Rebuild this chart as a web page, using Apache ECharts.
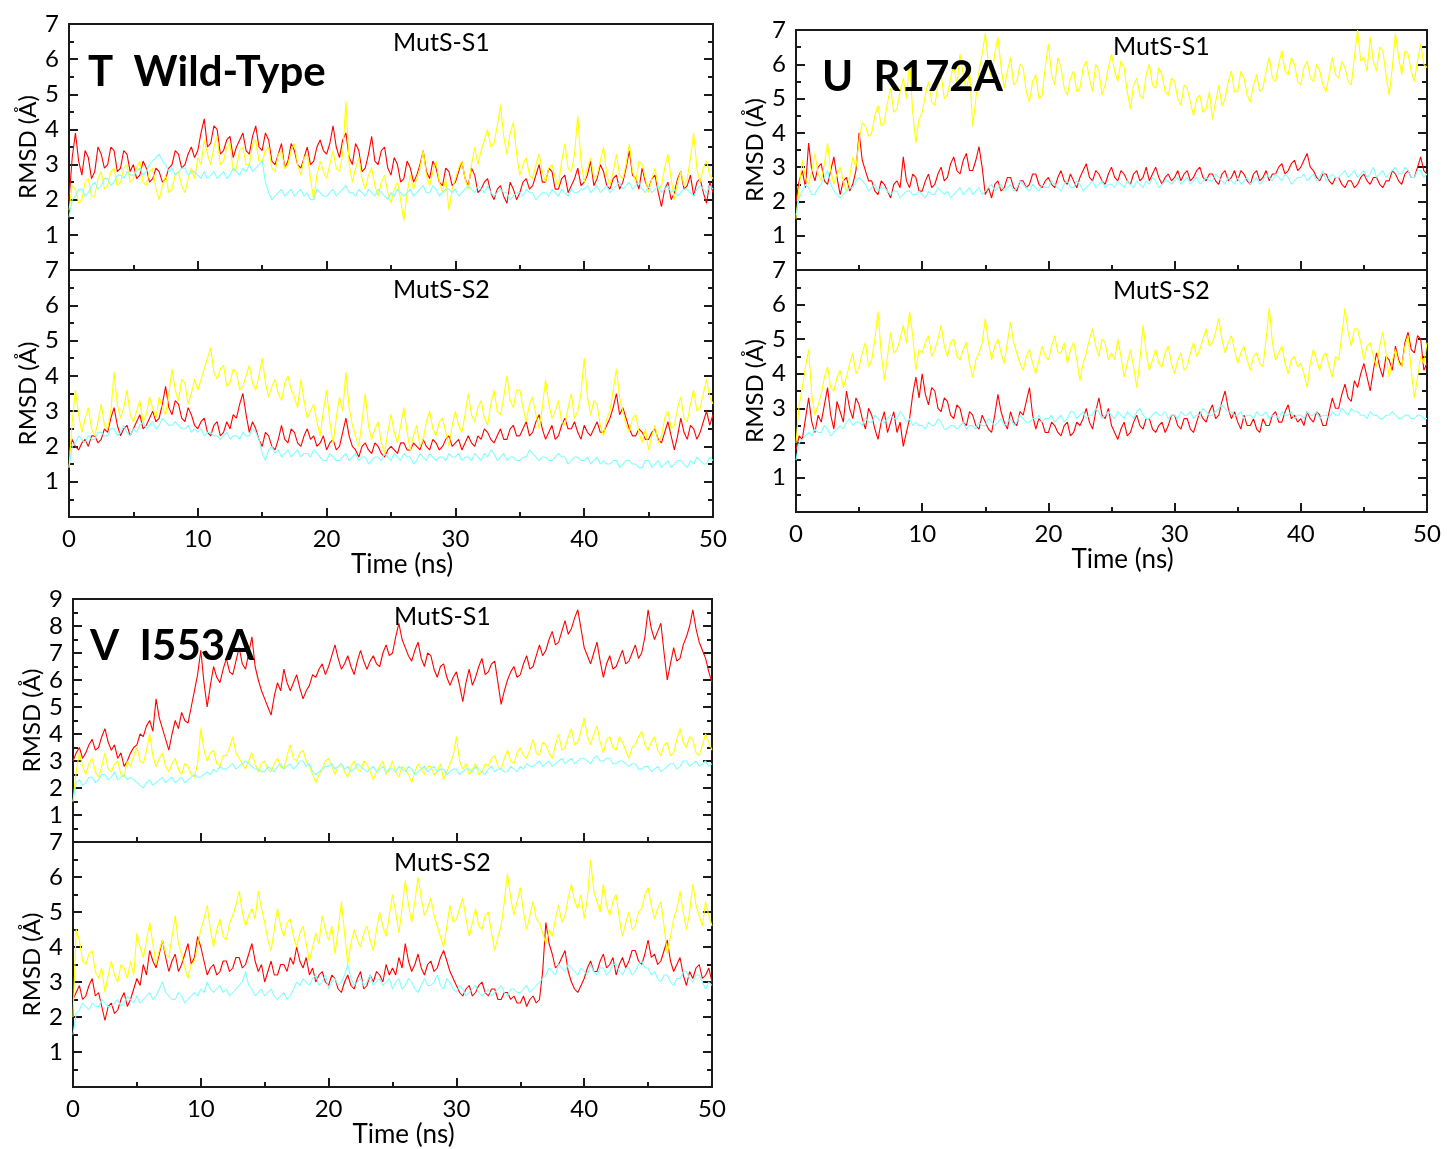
<!DOCTYPE html>
<html><head><meta charset="utf-8">
<script src="https://cdn.jsdelivr.net/npm/echarts@6/dist/echarts.min.js"></script>
<style>html,body{margin:0;padding:0;background:#fff}#c{width:1447px;height:1149px}</style>
</head><body><div id="c"></div>
<script>
// ---- data (RMSD in Å, one value every 0.25 ns from 0 to 50 ns; one row = 5 ns) ----
const timeStepNs = 0.25;
const xTickLabels = [0, 10, 20, 30, 40, 50];
const panelLabels = ['T  Wild-Type', 'U  R172A', 'V  I553A'];
const subplotTitles = ['MutS-S1', 'MutS-S2'];

// Wild-Type, MutS-S1
const wtS1Red = [
 2.0,3.2,3.9,3.1,2.7,3.4,3.2,2.6,2.8,3.5,3.3,2.9,3.0,3.5,3.4,2.8,2.9,3.4,3.3,2.8,
 3.0,2.6,2.7,3.1,2.9,2.5,2.6,2.9,2.8,2.5,2.6,2.9,3.0,3.4,3.3,2.9,3.0,3.3,3.5,3.2,
 3.4,3.9,4.3,3.5,3.6,4.1,4.0,3.3,3.4,3.7,3.8,3.2,3.5,3.7,3.9,3.4,3.3,3.8,4.1,3.5,
 3.4,3.9,3.7,3.1,3.0,3.3,3.6,2.9,3.1,3.6,3.4,3.0,2.9,3.2,3.5,3.0,3.1,3.5,3.7,3.4,
 3.3,3.6,4.1,3.5,3.2,3.7,3.9,3.2,3.0,3.6,3.4,2.8,2.9,3.3,3.8,3.1,3.0,3.4,3.5,2.9,
 2.7,3.2,3.0,2.5,2.6,3.1,2.9,2.5,2.7,3.0,3.4,2.8,2.6,3.1,2.9,2.5,2.4,2.9,2.8,2.4,
 2.5,2.8,3.1,2.6,2.4,2.9,2.7,2.2,2.3,2.5,2.6,2.2,2.0,2.3,2.4,2.1,1.9,2.5,2.3,2.0,
 2.2,2.5,2.6,2.3,2.4,2.7,3.0,2.5,2.5,2.9,2.8,2.3,2.3,2.6,2.7,2.2,2.4,2.6,2.9,2.4,
 2.5,2.7,3.1,2.4,2.6,3.0,2.8,2.4,2.3,2.6,2.7,2.3,2.5,2.9,3.4,2.7,2.6,2.3,2.9,2.5,
 2.3,2.6,2.7,2.2,1.8,2.3,2.5,2.0,2.2,2.6,2.8,2.3,2.4,2.7,2.1,2.5,2.6,2.2,1.9,2.5,
 2.2];
const wtS1Yellow = [
 1.7,2.4,2.3,1.9,2.0,2.5,2.6,2.1,2.1,2.6,2.8,2.3,2.4,2.8,2.9,2.4,2.5,2.9,3.0,2.5,
 2.6,2.9,3.1,2.5,2.4,2.8,2.9,2.3,2.0,2.4,2.7,2.2,2.3,2.7,2.8,2.4,2.2,2.6,2.9,2.6,
 3.2,3.0,3.7,3.3,3.0,3.5,3.8,3.0,3.1,3.5,3.6,2.8,2.9,3.4,3.5,3.0,3.0,3.6,3.7,3.1,
 3.1,3.4,3.5,2.9,2.8,3.3,3.4,2.9,3.0,3.4,3.6,3.0,2.7,3.2,3.3,2.6,2.0,2.7,3.1,2.8,
 2.6,3.0,3.4,2.9,2.8,3.3,4.8,3.0,2.5,2.9,3.2,2.6,2.3,2.7,2.9,2.4,2.1,2.5,2.7,2.2,
 1.9,2.3,2.5,2.0,1.4,2.2,2.7,2.3,2.6,2.9,3.4,2.7,2.4,2.8,3.1,2.5,2.2,2.6,1.7,2.3,
 2.6,2.9,3.1,2.6,2.3,3.0,3.5,3.0,3.4,3.7,4.0,3.5,3.6,4.1,4.7,3.8,3.3,3.9,4.2,3.3,
 2.7,3.0,3.2,2.7,2.6,3.0,3.3,2.8,2.5,2.9,3.0,2.6,2.4,3.1,3.6,2.9,2.8,3.3,4.4,3.1,
 2.5,2.9,3.2,2.6,2.7,3.1,3.5,2.7,2.4,2.8,3.3,2.7,2.6,3.0,3.6,2.8,2.5,3.1,3.0,2.6,
 2.2,2.6,2.9,2.3,2.4,2.9,3.3,2.6,2.0,2.5,2.8,2.4,2.6,3.2,3.9,2.9,2.5,2.9,3.1,2.7,
 2.6];
const wtS1Cyan = [
 1.5,2.0,2.1,2.3,2.3,2.1,2.2,2.4,2.5,2.3,2.4,2.6,2.6,2.4,2.5,2.7,2.7,2.6,2.8,2.7,
 2.7,2.8,2.9,2.7,2.8,3.0,3.1,3.2,3.3,3.1,3.0,2.8,2.9,2.7,2.8,2.9,2.9,2.7,2.8,2.8,
 2.7,2.6,2.8,2.6,2.7,2.8,2.6,2.7,2.8,2.6,2.7,2.9,2.8,2.7,2.9,2.8,3.0,2.8,2.9,3.0,
 3.1,2.5,2.2,2.0,2.1,2.2,2.3,2.1,2.2,2.3,2.1,2.2,2.3,2.1,2.2,2.0,2.0,2.3,2.2,2.1,
 2.1,2.2,2.3,2.1,2.2,2.3,2.4,2.2,2.2,2.1,2.3,2.2,2.1,2.3,2.2,2.1,2.3,2.2,2.1,2.0,
 2.2,2.1,2.3,2.2,2.1,2.2,2.3,2.1,2.2,2.3,2.4,2.2,2.2,2.4,2.3,2.1,2.2,2.3,2.3,2.2,
 2.3,2.1,2.2,2.3,2.4,2.3,2.2,2.4,2.3,2.2,2.4,2.2,2.1,2.2,2.3,2.2,2.2,2.0,2.1,2.2,
 2.2,2.1,2.3,2.2,2.2,2.0,2.1,2.2,2.2,2.1,2.3,2.2,2.1,2.3,2.2,2.1,2.3,2.2,2.2,2.3,
 2.3,2.4,2.2,2.3,2.4,2.2,2.3,2.4,2.2,2.3,2.4,2.5,2.3,2.4,2.5,2.3,2.4,2.5,2.3,2.2,
 2.4,2.2,2.3,2.4,2.2,2.3,2.4,2.2,2.3,2.1,2.2,2.3,2.3,2.2,2.1,2.3,2.4,2.3,2.2,2.4,
 2.3];

// Wild-Type, MutS-S2
const wtS2Red = [
 1.8,2.2,2.0,1.9,2.1,2.2,2.0,2.3,2.3,2.1,2.2,2.5,2.4,2.8,3.1,2.6,2.3,2.5,2.6,2.3,
 2.5,2.7,2.9,2.5,2.6,2.8,3.0,2.7,2.8,3.2,3.7,3.1,2.9,3.3,3.2,2.8,2.7,3.1,2.9,2.6,
 2.5,2.7,2.8,2.4,2.3,2.6,2.7,2.3,2.4,2.7,2.5,2.9,2.8,3.2,3.5,2.9,2.4,2.7,2.5,2.2,
 2.0,2.4,2.3,2.0,1.9,2.2,2.6,2.2,2.1,2.5,2.4,2.1,2.0,2.3,2.5,2.2,2.3,2.0,2.1,2.3,
 1.9,2.1,2.2,1.9,2.0,2.4,2.8,2.3,2.0,1.9,1.7,2.0,2.1,1.9,1.8,2.1,2.0,1.8,1.7,1.9,
 2.0,1.9,1.8,2.1,2.1,1.9,1.9,2.1,2.0,1.9,2.2,2.0,1.9,2.2,2.1,1.9,2.0,2.2,2.3,2.0,
 2.1,2.2,1.9,2.1,2.3,2.1,2.0,2.3,2.2,2.5,2.4,2.2,2.1,2.3,2.5,2.2,2.2,2.5,2.6,2.3,
 2.3,2.5,2.7,2.3,2.4,2.7,2.9,2.5,2.2,2.4,2.6,2.2,2.3,2.6,2.8,2.5,2.5,2.7,2.4,2.2,
 2.6,2.4,2.3,2.5,2.7,2.4,2.4,2.6,2.8,3.1,3.5,2.9,3.1,2.8,2.5,2.3,2.3,2.5,2.4,2.2,
 2.2,2.4,2.5,2.2,2.1,2.4,2.7,2.3,1.9,2.3,2.8,2.4,2.2,2.6,2.5,2.2,2.4,2.7,3.0,2.6,
 2.9];
const wtS2Yellow = [
 1.4,2.7,3.6,2.9,2.4,2.8,3.1,2.5,2.3,2.7,3.2,2.6,2.5,3.0,4.1,3.2,2.8,3.1,3.6,2.9,
 2.7,3.0,3.3,2.7,2.9,3.4,3.1,2.8,3.4,3.1,2.9,3.5,4.2,3.6,3.3,3.9,3.8,3.2,3.5,3.9,
 3.6,3.9,4.2,4.5,4.8,4.1,3.9,4.2,4.3,3.7,3.8,4.2,4.1,3.6,3.7,4.0,4.3,3.8,3.6,4.0,
 4.5,3.8,3.4,3.7,3.9,3.5,3.3,3.8,4.0,3.6,3.4,3.1,3.9,3.3,2.8,3.0,3.2,2.7,2.3,3.0,
 3.6,2.7,2.1,2.8,3.4,3.0,4.1,3.1,2.6,2.3,2.0,2.7,3.5,2.6,2.2,2.5,2.7,2.1,1.8,2.4,
 2.9,2.4,2.1,2.6,3.1,2.4,1.9,2.3,2.6,2.0,2.2,2.7,3.0,2.5,2.3,2.7,2.8,2.4,2.0,2.6,
 3.0,2.6,2.4,2.9,3.5,2.9,2.7,3.1,3.3,2.8,2.6,3.2,3.6,3.0,2.9,3.4,4.0,3.3,3.1,3.6,
 3.6,3.1,2.7,3.2,3.4,2.9,2.5,3.1,3.9,3.2,2.8,3.0,3.3,2.7,2.6,3.1,3.5,2.8,3.0,3.5,
 4.5,3.4,2.9,3.3,3.2,2.6,2.3,2.8,3.0,3.6,4.2,3.4,3.0,2.6,2.4,2.8,2.9,2.4,2.1,2.5,
 1.9,2.3,2.6,2.1,2.3,2.8,3.0,2.5,2.6,3.1,3.4,2.8,2.7,3.2,3.6,3.0,3.1,3.5,3.9,3.4,
 3.2];
const wtS2Cyan = [
 1.4,2.0,2.1,2.3,2.2,2.1,2.3,2.2,2.2,2.4,2.4,2.3,2.3,2.5,2.5,2.3,2.4,2.6,2.4,2.3,
 2.5,2.4,2.6,2.7,2.5,2.6,2.7,2.5,2.6,2.8,2.7,2.6,2.6,2.7,2.6,2.5,2.5,2.6,2.4,2.5,
 2.4,2.5,2.3,2.4,2.4,2.3,2.3,2.2,2.3,2.4,2.2,2.3,2.3,2.2,2.4,2.3,2.3,2.5,2.4,2.2,
 1.8,1.6,1.9,2.0,1.8,1.9,1.7,1.8,1.9,1.7,1.8,1.9,1.7,1.8,1.8,1.7,1.9,1.8,1.7,1.6,
 1.6,1.8,1.7,1.6,1.6,1.7,1.8,1.6,1.7,1.8,1.6,1.7,1.7,1.5,1.6,1.7,1.7,1.6,1.8,1.7,
 1.6,1.8,1.7,1.6,1.8,1.7,1.7,1.5,1.6,1.8,1.7,1.6,1.8,1.7,1.6,1.7,1.7,1.6,1.8,1.7,
 1.7,1.8,1.6,1.7,1.7,1.6,1.8,1.7,1.6,1.8,1.7,1.9,1.8,1.6,1.7,1.8,1.6,1.7,1.7,1.6,
 1.6,1.7,1.7,1.9,1.8,1.7,1.6,1.7,1.7,1.6,1.6,1.7,1.8,1.7,1.7,1.5,1.6,1.7,1.7,1.6,
 1.6,1.7,1.5,1.6,1.7,1.5,1.6,1.5,1.5,1.6,1.6,1.4,1.5,1.6,1.6,1.5,1.5,1.4,1.4,1.6,
 1.6,1.4,1.5,1.6,1.4,1.5,1.6,1.4,1.5,1.6,1.6,1.5,1.4,1.6,1.5,1.7,1.6,1.5,1.5,1.7,
 1.6];

// R172A, MutS-S1
const r172S1Red = [
 2.0,2.6,2.9,2.4,3.7,2.9,2.6,3.0,3.1,2.6,2.5,2.9,3.3,2.7,2.2,2.6,2.7,2.3,2.5,2.9,
 4.0,3.2,2.9,2.6,2.6,2.3,2.2,2.6,2.5,2.3,2.1,2.5,2.6,2.4,3.3,2.6,2.4,2.8,2.7,2.3,
 2.3,2.6,2.8,2.4,2.5,2.8,3.0,2.6,2.7,3.1,3.3,2.9,2.8,3.2,3.4,2.9,2.9,3.2,3.6,3.0,
 2.2,2.4,2.1,2.5,2.6,2.3,2.4,2.7,2.7,2.4,2.3,2.6,2.6,2.4,2.5,2.8,2.8,2.5,2.4,2.6,
 2.7,2.5,2.4,2.7,2.9,2.6,2.5,2.8,2.6,2.4,2.7,2.9,3.1,2.7,2.6,2.9,2.8,2.6,2.5,2.8,
 3.0,2.7,2.6,2.9,2.8,2.6,2.5,2.8,2.9,2.6,2.7,3.0,2.6,2.8,3.0,2.7,2.5,2.7,2.8,2.6,
 2.7,2.9,2.6,2.8,2.9,2.6,2.7,2.9,3.0,2.7,2.6,2.8,2.8,2.6,2.5,2.8,2.9,2.6,2.7,2.9,
 2.6,2.9,2.8,2.6,2.5,2.8,2.9,2.6,2.7,2.9,2.6,2.8,2.8,3.0,3.1,2.8,2.9,3.1,3.2,2.9,
 3.0,3.2,3.4,3.0,2.9,2.7,2.6,2.8,2.8,2.6,2.5,2.7,2.7,2.5,2.4,2.6,2.6,2.4,2.5,2.7,
 2.8,2.6,2.5,2.7,2.7,2.5,2.4,2.6,2.6,2.9,2.8,2.6,2.5,2.8,2.9,2.7,2.7,3.0,3.3,2.9,
 2.8];
const r172S1Yellow = [
 1.5,2.4,3.2,2.7,2.5,2.9,3.4,2.8,2.6,3.1,3.7,2.9,2.5,2.8,3.0,2.6,2.3,2.7,3.3,3.0,
 3.8,4.3,4.2,3.9,4.0,4.5,4.8,4.2,4.3,4.9,5.3,4.6,4.7,5.2,5.6,5.0,6.1,4.6,3.7,4.4,
 4.6,5.1,5.5,4.9,4.8,5.4,5.7,5.0,5.1,5.6,6.0,5.4,6.3,5.7,5.2,5.8,4.2,5.0,5.8,6.3,
 6.9,6.0,5.6,6.3,6.8,5.9,5.3,5.8,6.2,5.4,5.5,6.0,5.9,5.2,4.9,5.5,5.7,5.0,5.1,5.9,
 6.6,5.7,5.4,6.2,5.9,5.3,5.1,5.6,5.8,5.2,5.3,5.9,6.1,5.6,5.2,6.0,5.8,5.1,5.4,5.9,
 6.3,5.8,5.5,6.1,5.9,5.2,4.7,5.4,5.6,5.1,5.0,5.7,6.0,5.4,5.3,5.9,5.7,5.2,5.1,5.6,
 5.5,5.0,4.8,5.4,5.3,4.9,4.5,5.0,5.1,4.6,4.7,5.2,4.4,4.9,5.4,4.8,5.0,5.5,5.8,5.2,
 5.2,5.8,5.6,5.1,4.9,5.4,5.7,5.2,5.3,5.8,6.2,5.6,5.5,6.0,6.4,5.8,5.7,6.2,6.0,5.5,
 5.4,5.9,6.1,5.6,5.5,6.0,5.8,5.4,5.2,5.7,6.2,5.7,5.6,6.1,5.9,5.5,5.4,6.2,7.0,6.1,
 6.2,5.8,6.8,6.1,5.8,6.5,6.4,5.7,5.1,5.9,6.9,6.2,5.7,6.4,6.3,5.8,5.5,6.1,6.6,6.0,
 5.9];
const r172S1Cyan = [
 1.6,2.1,2.3,2.5,2.4,2.2,2.2,2.4,2.5,2.7,2.9,2.5,2.3,2.2,2.1,2.2,2.3,2.4,2.4,2.6,
 2.7,2.6,2.5,2.3,2.4,2.5,2.3,2.4,2.4,2.3,2.2,2.3,2.3,2.1,2.2,2.3,2.3,2.2,2.2,2.3,
 2.2,2.1,2.3,2.2,2.2,2.4,2.3,2.2,2.3,2.1,2.2,2.3,2.4,2.2,2.3,2.4,2.2,2.3,2.4,2.2,
 2.3,2.4,2.5,2.3,2.4,2.5,2.3,2.4,2.5,2.3,2.4,2.6,2.5,2.4,2.3,2.5,2.4,2.3,2.5,2.4,
 2.4,2.6,2.5,2.4,2.3,2.5,2.6,2.4,2.4,2.6,2.5,2.3,2.4,2.5,2.6,2.4,2.5,2.6,2.4,2.5,
 2.5,2.4,2.6,2.5,2.4,2.6,2.5,2.4,2.6,2.5,2.4,2.6,2.5,2.7,2.6,2.4,2.5,2.6,2.6,2.5,
 2.6,2.7,2.5,2.6,2.7,2.5,2.6,2.7,2.5,2.6,2.7,2.6,2.6,2.8,2.7,2.6,2.5,2.7,2.6,2.5,
 2.7,2.5,2.6,2.7,2.5,2.6,2.7,2.5,2.6,2.8,2.7,2.6,2.8,2.7,2.6,2.8,2.7,2.5,2.6,2.7,
 2.7,2.8,2.6,2.7,2.8,2.6,2.7,2.9,2.6,2.7,2.8,2.7,2.7,2.8,2.9,2.7,2.8,2.9,2.7,2.8,
 2.9,2.7,2.8,3.0,2.7,2.8,2.9,2.7,2.8,2.9,3.0,2.8,2.8,3.0,2.9,2.7,2.7,2.9,2.9,2.7,
 2.8];

// R172A, MutS-S2
const r172S2Red = [
 1.8,2.2,2.1,2.7,3.3,2.6,2.3,2.8,2.6,3.1,3.6,2.8,2.4,3.2,2.9,2.6,3.5,3.0,2.7,3.3,
 3.1,2.7,2.4,3.0,2.8,2.4,2.1,2.6,2.9,2.3,2.6,2.9,2.3,2.6,1.9,2.3,2.7,3.4,3.9,3.3,
 4.0,3.4,3.1,3.6,3.5,3.0,2.9,3.3,3.2,2.8,2.7,3.1,3.0,2.6,2.5,2.9,2.8,2.5,2.4,2.8,
 2.6,2.4,2.3,2.8,3.4,2.9,2.6,2.4,2.9,2.6,2.5,2.9,2.8,3.2,3.6,2.8,2.4,2.7,2.6,2.3,
 2.3,2.6,2.5,2.3,2.2,2.5,2.6,2.2,2.3,2.6,2.5,2.7,3.0,2.6,2.4,2.9,3.3,2.8,2.7,3.0,
 2.5,2.3,2.1,2.4,2.6,2.2,2.3,2.6,2.8,2.5,2.4,2.7,2.7,2.4,2.3,2.5,2.6,2.3,2.5,2.8,
 2.8,2.5,2.4,2.7,2.7,2.4,2.3,2.6,2.9,2.7,2.6,2.9,3.1,2.7,2.8,3.2,3.5,3.0,2.7,2.9,
 2.6,2.4,2.8,2.5,2.5,2.7,2.4,2.3,2.7,2.5,2.5,2.8,2.9,2.6,2.6,2.9,3.1,2.7,2.8,2.6,
 2.7,2.5,2.9,2.7,2.6,2.9,2.8,2.5,2.5,2.9,3.3,3.0,3.0,3.4,3.7,3.3,3.2,3.8,3.6,4.0,
 4.3,3.9,3.5,4.1,4.6,4.2,3.9,4.5,4.4,4.1,4.8,4.4,4.2,4.9,5.2,4.7,4.6,5.1,5.0,4.1,
 4.3];
const r172S2Yellow = [
 2.0,3.1,3.6,4.2,4.7,3.4,2.8,3.1,3.4,3.9,4.2,3.6,3.5,3.9,4.1,3.6,3.9,4.3,4.6,4.0,
 4.2,4.6,4.9,4.2,4.4,5.0,5.8,4.6,3.8,4.5,5.2,4.6,4.7,5.0,5.4,4.9,5.8,5.1,4.1,4.7,
 4.6,4.9,5.1,4.5,4.7,5.0,5.4,4.8,4.5,4.9,5.0,4.5,4.4,4.7,4.9,4.3,3.9,4.4,4.6,4.9,
 5.6,4.9,4.4,4.8,5.0,4.6,4.3,4.9,5.5,4.9,4.6,4.3,4.1,4.5,4.7,4.3,4.0,4.4,4.8,4.5,
 4.4,4.8,5.1,4.6,4.6,4.9,4.3,4.7,4.9,4.4,3.8,4.3,4.6,5.0,5.3,4.8,4.5,5.0,4.9,4.4,
 4.6,4.4,5.0,4.5,3.9,4.3,4.7,4.2,3.6,4.4,5.4,4.6,4.1,4.4,4.7,4.3,4.2,4.6,4.8,4.3,
 4.0,4.4,4.6,4.1,4.2,4.6,4.9,4.5,4.7,5.0,5.3,4.8,4.9,5.2,5.6,5.0,4.6,4.9,5.1,4.7,
 4.3,4.6,4.8,4.4,4.1,4.5,4.6,4.3,4.2,5.0,5.9,4.9,4.4,4.6,4.8,4.3,4.0,4.4,4.5,4.2,
 4.3,4.0,3.6,4.3,4.7,4.4,4.1,4.5,4.6,4.2,3.9,4.5,4.4,5.1,5.9,5.2,4.8,5.3,5.3,4.9,
 4.4,4.8,4.9,4.5,4.2,4.8,5.2,4.6,3.9,4.4,4.7,4.3,4.2,4.8,5.1,4.1,3.3,3.9,4.5,4.3,
 4.9];
const r172S2Cyan = [
 1.5,2.0,2.1,2.2,2.3,2.2,2.4,2.3,2.3,2.5,2.4,2.2,2.3,2.4,2.5,2.4,2.6,2.7,2.5,2.6,
 2.6,2.5,2.7,2.6,2.6,2.8,2.7,2.6,2.6,2.7,2.8,2.7,2.7,2.9,2.8,2.6,2.7,2.5,2.6,2.5,
 2.5,2.4,2.6,2.5,2.5,2.7,2.6,2.4,2.4,2.5,2.5,2.4,2.5,2.6,2.4,2.5,2.5,2.4,2.6,2.5,
 2.5,2.7,2.6,2.5,2.6,2.7,2.5,2.6,2.7,2.5,2.6,2.8,2.7,2.6,2.6,2.7,2.7,2.8,2.6,2.7,
 2.7,2.8,2.6,2.7,2.8,2.6,2.7,2.9,2.9,2.7,2.8,2.9,2.7,2.8,2.8,3.0,2.9,2.7,2.8,2.9,
 2.8,2.7,2.9,2.8,2.7,2.9,2.8,2.7,2.9,3.0,2.8,2.7,2.7,2.8,2.9,2.8,2.8,2.9,2.7,2.8,
 2.8,2.7,2.9,2.8,2.8,2.9,2.7,2.8,2.8,3.0,2.9,2.8,2.8,2.9,3.0,3.1,3.0,2.9,2.9,2.8,
 2.8,2.9,2.7,2.8,2.8,2.7,2.9,2.8,2.8,2.9,2.7,2.8,2.8,2.7,2.9,2.8,2.8,2.9,2.7,2.8,
 2.8,2.7,2.9,2.8,2.8,2.9,2.7,2.8,2.8,2.7,2.9,2.8,2.8,3.0,2.9,2.8,3.0,2.9,2.9,2.8,
 2.8,2.7,2.9,2.8,2.8,2.7,2.7,2.8,2.8,2.9,2.8,2.7,2.7,2.8,2.8,2.7,2.7,2.8,2.8,2.7,
 2.7];

// I553A, MutS-S1
const i553S1Red = [
 3.0,3.3,3.5,3.1,3.3,3.6,3.8,3.4,3.5,3.9,4.2,3.7,3.4,3.6,3.1,3.3,2.8,3.0,3.3,3.5,
 3.6,4.0,3.9,4.3,4.5,4.1,5.3,4.6,4.2,3.8,3.4,4.0,4.5,4.2,4.8,4.5,4.4,5.0,5.6,6.2,
 7.1,5.9,5.0,5.8,6.5,6.1,5.9,6.4,6.8,6.3,6.2,6.7,7.2,6.6,6.4,7.0,7.6,6.5,6.0,5.6,
 5.3,5.0,4.7,5.4,5.9,5.6,6.4,5.9,5.6,5.9,6.2,5.7,5.3,5.6,5.8,6.2,6.1,6.4,6.6,6.2,
 6.5,6.9,7.3,6.8,6.4,6.6,6.9,6.5,6.2,6.7,7.1,6.7,6.4,6.7,6.9,6.6,6.5,7.0,7.3,6.9,
 7.0,7.6,8.1,7.5,7.2,6.9,6.7,7.1,7.4,6.8,6.5,7.0,6.9,6.4,6.1,6.5,6.6,6.1,5.8,6.1,
 6.3,5.8,5.2,5.9,6.4,5.8,6.1,6.5,6.8,6.2,6.3,6.6,6.7,5.9,5.1,5.6,6.0,6.3,6.5,6.1,
 6.2,6.6,6.9,6.4,6.5,6.9,7.3,6.9,7.1,7.5,7.8,7.3,7.4,7.8,8.2,7.7,7.9,8.3,8.6,7.9,
 7.2,6.9,6.6,7.0,7.4,6.7,6.1,6.6,6.9,6.4,6.5,6.8,7.1,6.6,6.7,7.0,7.3,6.8,7.0,7.6,
 8.6,7.9,7.5,7.8,8.1,7.0,6.0,6.6,7.2,6.7,6.8,7.3,7.6,8.0,8.6,7.9,7.4,7.1,6.8,6.3,
 5.9];
const i553S1Yellow = [
 1.5,2.6,3.3,2.8,2.5,2.9,3.1,2.6,2.4,2.8,3.3,2.7,2.6,2.9,3.0,2.5,2.4,3.0,2.8,3.2,
 3.5,3.0,2.9,3.4,4.0,3.2,2.8,3.1,3.3,2.8,2.6,2.9,3.1,2.7,2.5,2.9,2.8,2.5,2.4,2.9,
 4.2,3.4,3.0,3.3,3.4,2.9,2.8,3.2,3.2,3.5,3.9,3.3,3.1,2.9,2.7,3.0,3.3,2.9,2.6,2.9,
 3.0,2.7,2.6,2.9,3.1,2.8,2.7,3.2,3.6,3.1,3.0,3.3,3.4,3.0,2.8,2.5,2.2,2.5,2.7,3.0,
 3.1,2.8,2.5,2.8,2.9,2.6,2.4,2.8,3.0,2.7,2.6,3.0,2.9,2.6,2.3,2.6,2.8,3.0,2.5,2.7,
 3.0,2.6,2.4,2.8,2.7,2.5,2.2,2.6,2.9,2.7,2.5,2.8,2.8,2.5,2.6,2.9,2.3,2.6,2.9,3.2,
 3.9,3.0,2.7,2.9,2.5,2.7,2.9,2.5,2.6,2.9,2.8,3.1,3.2,2.8,2.7,3.1,3.4,3.0,2.9,3.3,
 3.5,3.2,3.1,3.4,3.8,3.3,3.2,3.7,3.6,3.3,3.1,3.6,4.0,3.4,3.5,3.9,4.2,3.6,3.7,4.1,
 4.6,3.9,3.6,4.0,4.3,3.7,3.3,3.8,3.9,3.5,3.4,3.9,3.7,3.4,3.1,3.5,3.6,3.9,4.1,3.6,
 3.4,3.7,3.9,3.4,3.2,3.6,3.7,3.2,3.3,3.8,4.2,3.7,3.5,3.9,3.8,3.3,3.2,3.6,4.0,3.7,
 3.4];
const i553S1Cyan = [
 1.5,2.2,2.3,2.1,2.2,2.4,2.4,2.2,2.3,2.5,2.5,2.3,2.4,2.6,2.3,2.4,2.5,2.3,2.4,2.3,
 2.2,2.1,2.0,2.2,2.3,2.1,2.2,2.3,2.4,2.2,2.3,2.4,2.2,2.3,2.4,2.2,2.3,2.4,2.5,2.4,
 2.4,2.5,2.6,2.5,2.7,2.6,2.8,2.7,2.7,2.8,2.9,2.7,2.8,2.9,3.0,2.9,2.8,2.7,2.7,2.6,
 2.6,2.8,2.7,2.6,2.8,2.9,2.7,2.8,2.9,2.7,2.8,3.0,3.0,2.8,2.9,2.6,2.5,2.6,2.7,2.8,
 2.8,2.9,2.7,2.8,2.9,2.7,2.8,2.6,2.7,2.9,2.8,2.7,2.6,2.7,2.8,2.6,2.7,2.8,2.6,2.7,
 2.7,2.6,2.8,2.7,2.6,2.8,2.7,2.5,2.6,2.7,2.8,2.6,2.7,2.8,2.6,2.7,2.7,2.5,2.6,2.7,
 2.7,2.5,2.6,2.7,2.7,2.6,2.8,2.7,2.6,2.5,2.7,2.8,2.6,2.7,2.7,2.6,2.6,2.8,2.7,2.6,
 2.8,2.7,2.9,2.8,2.8,2.9,3.0,2.8,2.9,3.0,2.8,2.9,3.0,3.1,2.9,3.0,3.1,2.9,3.0,3.1,
 3.1,3.0,2.9,3.1,3.2,3.0,3.0,3.1,3.1,2.9,2.9,3.0,3.0,2.9,2.8,2.9,2.9,2.7,2.7,2.8,
 2.8,2.6,2.7,2.8,2.6,2.7,2.8,2.9,2.9,2.7,2.8,3.0,3.0,2.8,2.9,3.0,2.8,2.9,3.0,2.8,
 2.9];

// I553A, MutS-S2
const i553S2Red = [
 2.5,2.7,2.9,2.5,2.6,2.9,3.1,2.6,2.7,2.3,1.9,2.3,2.4,2.1,2.2,2.5,2.7,2.3,2.5,2.8,
 3.1,2.9,3.5,3.2,3.9,3.6,3.4,3.8,4.2,3.7,3.3,3.6,3.8,3.3,3.5,3.8,4.1,3.5,3.7,4.3,
 4.0,3.6,3.2,3.4,3.5,3.2,3.3,3.6,3.6,3.3,3.4,3.7,3.7,3.4,3.5,3.8,4.1,3.6,3.3,3.5,
 3.0,3.3,3.6,3.2,3.2,3.5,3.5,3.3,3.7,3.5,4.0,3.6,3.4,3.7,3.2,3.4,3.0,3.2,3.3,3.0,
 2.9,3.2,3.1,2.8,2.7,3.0,3.2,2.9,2.8,3.1,3.3,2.8,2.9,3.2,3.0,3.3,3.2,3.0,3.5,3.2,
 3.4,3.2,3.7,3.4,4.1,3.6,3.3,3.5,3.8,3.4,3.2,3.5,3.6,3.3,3.4,3.7,3.9,3.6,3.3,3.1,
 2.9,2.7,2.6,2.8,2.9,2.6,2.7,2.9,3.0,2.7,2.6,2.8,2.8,2.5,2.5,2.7,2.7,2.5,2.6,2.4,
 2.4,2.6,2.3,2.5,2.6,2.4,2.5,3.3,4.7,4.1,3.8,3.4,3.5,3.7,3.9,3.3,3.0,2.8,2.7,2.9,
 3.1,3.4,3.6,3.3,3.3,3.6,3.8,3.4,3.5,3.7,3.2,3.5,3.7,3.4,3.6,3.9,3.9,3.6,3.5,3.8,
 4.2,3.7,3.8,3.5,3.6,3.9,4.2,3.6,3.3,3.5,3.7,3.2,2.9,3.3,3.1,3.4,3.5,3.1,3.2,3.4,
 3.0];
const i553S2Yellow = [
 2.0,4.5,4.2,3.6,3.5,3.8,3.9,3.3,3.1,3.4,2.7,3.2,3.6,3.2,3.0,3.5,3.4,3.1,3.6,3.2,
 4.4,4.0,3.7,4.2,4.7,4.1,3.5,3.9,4.2,3.8,3.7,4.3,4.9,4.1,3.8,3.4,3.1,3.5,3.6,4.0,
 4.5,4.8,5.2,4.5,4.0,4.5,4.8,4.3,4.2,4.7,4.9,5.2,5.6,5.0,4.6,4.9,5.1,4.8,5.6,5.1,
 4.7,4.2,3.9,4.5,5.1,4.6,4.3,4.7,4.8,4.3,4.0,4.4,4.6,4.1,3.6,4.0,4.4,4.1,4.9,4.5,
 4.2,4.6,3.8,4.5,5.3,4.4,3.5,4.1,4.5,4.2,4.0,4.4,4.6,4.2,3.9,4.5,5.0,4.6,4.3,4.9,
 5.5,5.0,4.4,5.1,5.9,5.2,4.7,5.3,6.0,5.4,4.9,5.1,5.4,4.9,4.6,4.3,4.0,4.6,5.2,4.7,
 4.8,5.1,5.4,4.8,4.3,4.7,5.1,4.6,4.5,4.9,5.0,4.4,3.9,4.3,4.6,5.3,6.1,5.4,4.9,5.3,
 5.7,5.0,4.5,4.9,5.3,4.8,4.7,4.4,4.1,4.5,4.3,4.8,5.2,4.7,4.9,5.4,5.8,5.3,5.1,5.5,
 4.8,5.4,6.5,5.6,5.3,5.0,5.8,5.2,4.9,5.3,5.5,4.8,4.3,4.7,5.0,4.5,4.6,5.0,5.1,5.5,
 5.7,5.2,4.8,5.1,5.3,4.6,3.8,4.3,4.8,5.1,5.6,5.0,4.5,5.0,5.8,5.2,4.9,4.6,5.3,4.9,
 4.6];
const i553S2Cyan = [
 1.5,2.1,2.2,2.4,2.3,2.2,2.4,2.3,2.3,2.5,2.4,2.3,2.3,2.4,2.5,2.3,2.4,2.6,2.5,2.4,
 2.6,2.4,2.5,2.6,2.7,2.5,2.6,2.8,3.0,2.7,2.6,2.5,2.5,2.7,2.6,2.4,2.5,2.6,2.7,2.6,
 2.8,2.7,3.0,2.8,2.7,2.8,2.9,2.7,2.8,2.6,2.7,2.8,2.9,3.0,3.3,2.9,2.8,2.6,2.7,2.8,
 2.6,2.7,2.8,2.6,2.5,2.6,2.7,2.5,2.6,2.8,3.0,2.9,3.1,3.0,2.9,3.1,3.2,2.9,3.0,3.2,
 2.8,3.0,3.1,2.9,3.0,3.2,3.5,3.1,2.9,3.0,3.1,2.9,3.0,3.2,2.9,3.0,3.1,2.9,3.0,3.1,
 2.8,3.0,3.1,2.8,2.9,3.1,3.0,2.8,2.7,2.9,3.1,2.9,2.9,3.0,3.2,2.9,2.8,3.1,3.0,2.8,
 2.7,2.9,2.8,2.6,2.7,2.8,2.9,2.7,2.6,2.7,2.8,2.6,2.7,2.8,2.9,2.7,2.6,2.8,2.8,2.7,
 2.7,2.8,2.9,2.7,2.8,2.9,3.0,3.1,3.2,3.4,3.3,3.2,3.5,3.4,3.3,3.5,3.4,3.3,3.2,3.4,
 3.3,3.2,3.5,3.3,3.2,3.4,3.4,3.2,3.3,3.5,3.5,3.3,3.2,3.4,3.4,3.2,3.3,3.5,3.6,3.4,
 3.4,3.2,3.3,3.1,3.0,3.2,3.2,3.0,2.9,3.1,3.1,3.3,3.3,3.1,3.0,3.2,3.2,3.0,2.8,3.0,
 2.9];

const subplotData = [
  [wtS1Red, wtS1Yellow, wtS1Cyan],
  [wtS2Red, wtS2Yellow, wtS2Cyan],
  [r172S1Red, r172S1Yellow, r172S1Cyan],
  [r172S2Red, r172S2Yellow, r172S2Cyan],
  [i553S1Red, i553S1Yellow, i553S1Cyan],
  [i553S2Red, i553S2Yellow, i553S2Cyan]
];
const subplotYMax = [7, 7, 7, 7, 9, 7];

// ---- layout / style ----
const FONT = 'Lato';
const lineColors = ['#ff0000', '#ffff00', '#80ffff'];
const axisColor = '#1a1a1a';
const rects = [
  {left: 69, top: 24, width: 644, height: 246},
  {left: 69, top: 270, width: 644, height: 247},
  {left: 796, top: 30, width: 631, height: 240},
  {left: 796, top: 270, width: 631, height: 242},
  {left: 73, top: 599, width: 639, height: 243},
  {left: 73, top: 842, width: 639, height: 245}
];
const titlePos = [[393, 43], [393, 290], [1113, 47], [1113, 291], [394, 617], [394, 863]];
const labelPos = [[88, 71], [822, 76], [90, 645]];

const grid = [], xAxis = [], yAxis = [], series = [], graphic = [];
rects.forEach((r, k) => {
  const isBottom = k % 2 === 1;
  grid.push({left: r.left, top: r.top, width: r.width, height: r.height,
    show: true, borderColor: axisColor, borderWidth: 2, backgroundColor: 'transparent'});
  xAxis.push({
    type: 'value', gridIndex: k, min: xTickLabels[0], max: xTickLabels[xTickLabels.length - 1], interval: 10,
    axisLine: {show: true, onZero: false, lineStyle: {color: axisColor, width: 2}},
    axisTick: {show: true, inside: true, length: 9, lineStyle: {color: axisColor, width: 2}},
    minorTick: {show: true, splitNumber: 2, length: 5, lineStyle: {color: axisColor, width: 2}},
    splitLine: {show: false},
    axisLabel: {show: isBottom, margin: 10, fontFamily: FONT, fontSize: 24, color: '#000'},
    name: isBottom ? 'Time (ns)' : '', nameLocation: 'middle', nameGap: 35,
    nameTextStyle: {fontFamily: FONT, fontSize: 26, color: '#000', padding: [0, 0, 0, 22]}
  });
  const yMax = subplotYMax[k];
  const yBase = {
    type: 'value', gridIndex: k, min: 0, max: yMax, interval: 1,
    axisLine: {show: true, onZero: false, lineStyle: {color: axisColor, width: 2}},
    axisTick: {show: true, inside: true, length: 9, lineStyle: {color: axisColor, width: 2}},
    minorTick: {show: true, splitNumber: 2, length: 5, lineStyle: {color: axisColor, width: 2}},
    splitLine: {show: false}
  };
  yAxis.push(Object.assign({}, yBase, {
    position: 'left',
    axisLabel: {show: true, margin: 10, fontFamily: FONT, fontSize: 24, color: '#000',
      formatter: v => v === 0 ? '' : String(v)},
    name: 'RMSD (Å)', nameLocation: 'middle', nameRotate: 90, nameGap: 29,
    nameTextStyle: {fontFamily: FONT, fontSize: 24, color: '#000'}
  }));
  yAxis.push(Object.assign({}, yBase, {position: 'right', axisLabel: {show: false}}));
  subplotData[k].forEach((arr, j) => {
    series.push({
      type: 'line', xAxisIndex: k, yAxisIndex: 2 * k,
      data: arr.map((v, i) => [i * timeStepNs, v]),
      showSymbol: false, symbol: 'none', silent: true,
      lineStyle: {color: lineColors[j], width: 1.1}, z: 2 + j
    });
  });
  graphic.push({type: 'text', left: titlePos[k][0], top: titlePos[k][1] - 13, z: 100,
    style: {text: subplotTitles[k % 2], font: '25px ' + FONT, fill: '#000'}});
});
panelLabels.forEach((t, p) => {
  graphic.push({type: 'text', left: labelPos[p][0], top: labelPos[p][1] - 20, z: 100,
    style: {text: t, font: 'bold 42px ' + FONT, fill: '#000'}});
});

const chart = echarts.init(document.getElementById('c'), null, {renderer: 'canvas'});
chart.setOption({animation: false, backgroundColor: '#fff', grid, xAxis, yAxis, series, graphic});
</script></body></html>
